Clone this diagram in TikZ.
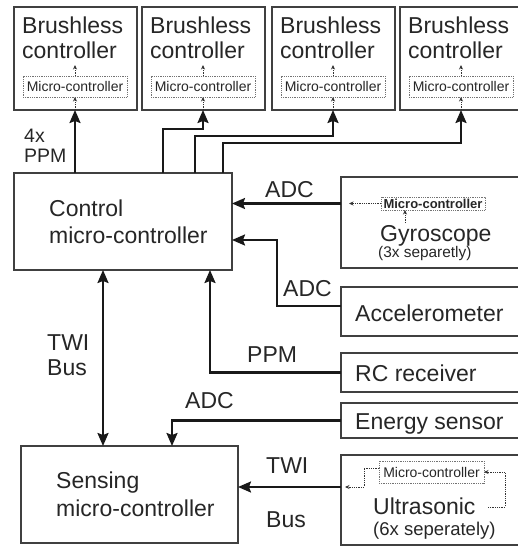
\documentclass[tikz,border=0pt]{standalone}
\usepackage{fontspec}
\setmainfont{Liberation Sans}
\usetikzlibrary{arrows.meta}

\tikzset{
	bigtip/.tip={Stealth[length=13pt,width=11pt,inset=2pt]},
	box/.style={draw=black!75, line width=1.3pt, inner sep=0pt, outer sep=0pt, anchor=north west},
	mcbox/.style={draw=black!55, densely dotted, line width=0.8pt, inner sep=0pt, outer sep=0pt, text=black!85, font=\fontsize{14}{14}\selectfont},
	txt/.style={anchor=base west, inner sep=0pt, text=black!85, font=\fontsize{23}{23}\selectfont},
	smalltxt/.style={txt, font=\fontsize{19.5}{19.5}\selectfont},
	wire/.style={line width=2.1pt, draw=black!90, -bigtip},
	sig/.style={densely dotted, line width=0.8pt, draw=black!80, -{Stealth[length=4.5pt,width=4pt]}},
}

\begin{document}
\begin{tikzpicture}[x=1pt,y=-1pt]
	\useasboundingbox (0,0) rectangle (518,546);

	% brushless controllers
	\foreach \i/\x/\w in {1/14/123, 2/142/123, 3/272/123, 4/400/130}{
		\node[box, minimum width=\w pt, minimum height=103pt] (b\i) at (\x,7) {};
		\node[txt] (b\i-t1) at (\x+8,33) {Brushless};
		\node[txt] (b\i-t2) at (\x+8,58) {controller};
		\node[mcbox, minimum width=104pt, minimum height=21pt] (m\i) at (\x+61,86.5) {Micro-controller};
		\draw[sig] (b\i.south -| m\i) -- (m\i.south);
		\draw[sig] (m\i.north) -- ++(0,-11);
	}

	% control micro-controller
	\node[box, minimum width=218pt, minimum height=97pt] (ctrl) at (14,173) {};
		\node[txt] (ctrl-t1) at (49,216) {Control};
		\node[txt] (ctrl-t2) at (49,243) {micro-controller};

	% sensing micro-controller
	\node[box, minimum width=217pt, minimum height=97pt] (sense) at (21,446) {};
		\node[txt] (sense-t1) at (56,488) {Sensing};
		\node[txt] (sense-t2) at (56,516) {micro-controller};

	% sensors
	\node[box, minimum width=190pt, minimum height=91pt] (gyro) at (341,177) {};
		\node[mcbox, font=\fontsize{13}{13}\bfseries, minimum width=104pt, minimum height=13pt] (gyro-mc) at (433,203.5) {Micro-controller};
		\node[txt] (gyro-t) at (380,241) {Gyroscope};
		\node[txt, font=\fontsize{15.4}{15.4}\selectfont] (gyro-n) at (378,257) {(3x separetly)};
		\coordinate (gyro-o) at (349,203.5);
		\draw[sig] (gyro-mc.west) -- (gyro-o);
		\draw[sig] ([xshift=-28pt,yshift=-13pt]gyro-mc.south) -- ([xshift=-28pt]gyro-mc.south);
	\node[box, minimum width=190pt, minimum height=49pt] (accel) at (341,287) {};
		\node[txt] (accel-t) at (355,321) {Accelerometer};
	\node[box, minimum width=190pt, minimum height=39pt] (rc) at (341,353) {};
		\node[txt] (rc-t) at (355,381) {RC receiver};
	\node[box, minimum width=190pt, minimum height=35pt] (energy) at (341,403) {};
		\node[txt] (energy-t) at (355,429) {Energy sensor};
	\node[box, minimum width=190pt, minimum height=90pt] (ultra) at (341,455) {};
		\node[mcbox, minimum width=105pt, minimum height=22pt] (ultra-mc) at (431.5,472) {Micro-controller};
		\node[txt] (ultra-t) at (373,514) {Ultrasonic};
		\node[txt, font=\fontsize{18.5}{18.5}\selectfont] (ultra-n) at (373,535) {(6x seperately)};
		\coordinate (ultra-o) at (345,487);
		\coordinate (ultra-r) at (488,507);
		\draw[sig] (ultra-mc.west |- 0,468) -- (364,468) |- (ultra-o);
		\draw[sig] (ultra-r) -- (505,507) |- (ultra-mc.east |- 0,472);

	% connections
	\draw[wire] (ctrl.north -| m1) -- (b1.south -| m1);
		\node[smalltxt] (ppm4-t1) at (24,142) {4x};
		\node[smalltxt] (ppm4-t2) at (24,162) {PPM};
	\draw[wire] (ctrl.north -| 163,0) -- (163,129) -| (b2.south -| m2);
	\draw[wire] (ctrl.north -| 195,0) -- (195,136) -| (b3.south -| m3);
	\draw[wire] (ctrl.north -| 223,0) -- (223,143) -| (b4.south -| m4);

	\draw[wire] (gyro.west |- gyro-mc) -- (ctrl.east |- gyro-mc);
		\node[txt] (adc1) at (265,197) {ADC};
	\draw[wire] ([yshift=-19pt]accel.north west) -- (277,306) |- ([yshift=-67pt]ctrl.north east);
		\node[txt] (adc2) at (283,296) {ADC};
	\draw[wire] (rc.west) -| (ctrl.south -| 210,0);
		\node[txt] (ppm) at (247,362) {PPM};
	\draw[wire] (energy.west) -| (sense.north -| 172,0);
		\node[txt] (adc3) at (185,408) {ADC};
	\draw[wire, bigtip-bigtip] (ctrl.south -| 103,0) -- (sense.north -| 103,0);
		\node[txt] (twi1-t1) at (47,350) {TWI};
		\node[txt] (twi1-t2) at (47,375) {Bus};
	\draw[wire] (ultra.west |- 0,487) -- (sense.east |- 0,487);
		\node[txt] (twi2-t1) at (266,473) {TWI};
		\node[txt] (twi2-t2) at (266,527) {Bus};
\end{tikzpicture}
\end{document}
